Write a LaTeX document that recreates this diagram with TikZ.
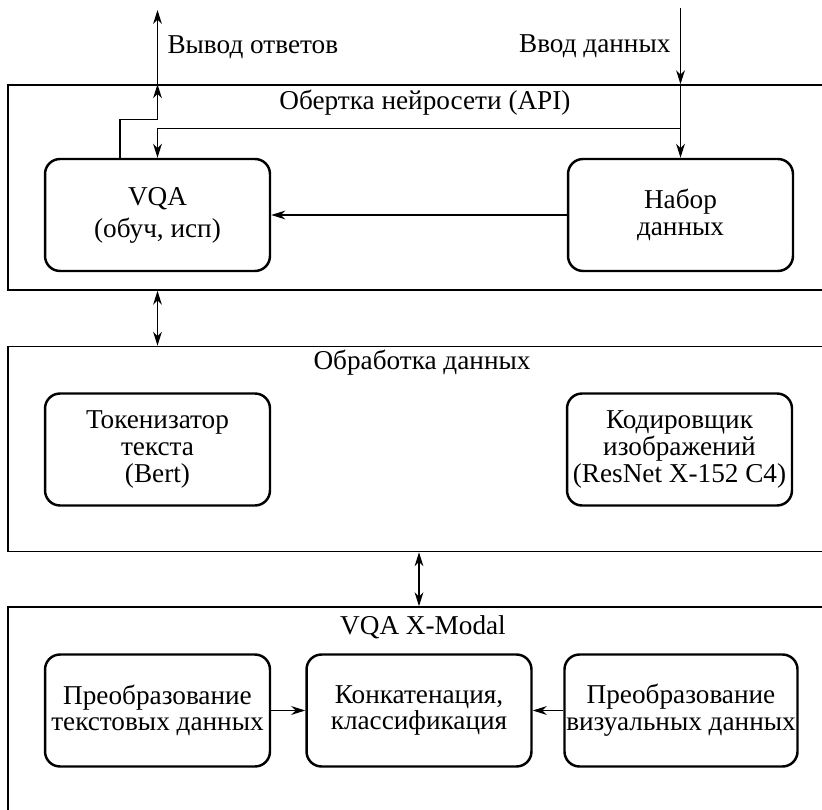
\documentclass[tikz,border=0pt]{standalone}
\usepackage{fontspec}
\setmainfont{Liberation Serif}
\usetikzlibrary{arrows.meta}

\begin{document}
\begin{tikzpicture}[x=0.02cm,y=0.02cm,>={Stealth[length=8pt,width=5pt]},
    font=\fontsize{15.5}{15.2}\selectfont,
    layer/.style={draw, line width=0.9pt, minimum width=16.6cm, minimum height=4.1cm, inner sep=0pt},
    block/.style={draw, line width=1.4pt, rounded corners=0.3cm, minimum width=4.5cm,
                  minimum height=2.24cm, inner sep=1pt, align=center},
    link/.style={line width=0.75pt}]
    \useasboundingbox (0,0) rectangle (822,809);
    \clip (0,0) rectangle (822,809);
    % layers
    \node[layer] (api)  at (423,621.5) {};
    \node[layer] (proc) at (423,360) {};
    \node[layer] (xmod) at (423,99.5) {};
    \node (apititle)  at (425,706) {Обертка нейросети (API)};
    \node (proctitle) at (422,446) {Обработка данных};
    \node (xmodtitle) at (423,182) {VQA X-Modal};
    % blocks
    \node[block] (vqa)    at (157.5,594)  {VQA\\[3pt](обуч, исп)};
    \node[block] (nabor)  at (680.5,594)  {Набор\\данных};
    \node[block] (token)  at (157.5,359.5) {Токенизатор\\текста\\(Bert)};
    \node[block] (koder)  at (679.5,359.5) {Кодировщик\\изображений\\(ResNet X-152 C4)};
    \node[block] (ptext)  at (157.5,98.5) {Преобразование\\текстовых данных};
    \node[block] (concat) at (419,98.5)   {Конкатенация,\\классификация};
    \node[block] (pvis)   at (681,98.5)   {Преобразование\\визуальных данных};
    % connectors
    \coordinate (outtop) at (157.5,799);
    \coordinate (intop)  at (680.5,801);
    \draw[link,->] ([xshift=-0.75cm]vqa.north) -- ++(0,0.76cm) -| (api.north -| vqa.north);
    \draw[link,->] (api.north -| vqa.north) -- (outtop) node[midway,right=2pt] {Вывод ответов};
    \draw[link,->] (intop) -- (api.north -| nabor.north) node[midway,left=2pt] {Ввод данных};
    \draw[link,->] (api.north -| nabor.north) -- (nabor.north);
    \draw[link,->] ([yshift=0.58cm]nabor.north) -| (vqa.north);
    \draw[link,->] (nabor) -- (vqa);
    \draw[link,<->] (api.south -| vqa.south) -- (proc.north -| vqa.south);
    \draw[link,<->] (proc.south -| concat.north) -- (xmod.north -| concat.north);
    \draw[link,->] (ptext) -- (concat);
    \draw[link,->] (pvis) -- (concat);
\end{tikzpicture}
\end{document}
